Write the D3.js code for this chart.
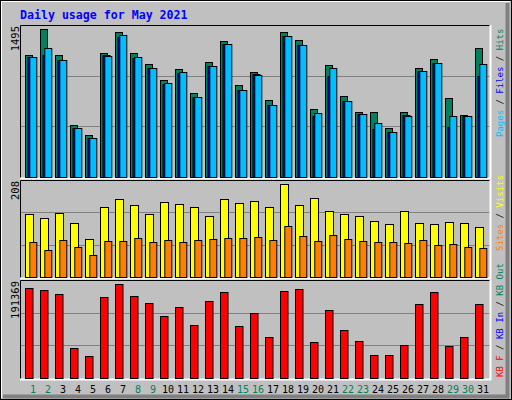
<!DOCTYPE html>
<html>
<head>
<meta charset="utf-8" />
<script src="https://cdn.jsdelivr.net/npm/d3@7"></script>
<style>
  body { margin: 0; background: #fff; }
  text { font-family: "DejaVu Sans Mono", monospace; }
</style>
</head>
<body>
<div id="chart"></div>
<script>
// data
var days = d3.range(1, 32);
var weekend = [1, 2, 8, 9, 15, 16, 22, 23, 29, 30];
var hits  = [1231,1495,1231,521,420,1251,1464,1251,1140,977,1089,846,1160,1373,927,1059,
             775,1464,1383,683,1130,815,653,653,491,653,1099,1190,795,623,1302];
var files = [1211,1231,1180,491,389,1231,1413,1200,1099,937,1048,811,1119,1346,876,1038,
             724,1424,1332,612,1018,765,633,481,450,623,1069,1150,501,612,1018];
var pages = [1211,1302,1180,491,389,1224,1437,1211,1099,947,1062,811,1119,1346,876,1028,
             724,1424,1332,643,1099,765,633,541,450,612,1069,1150,612,612,1140];
var visits = [140,131,143,120,84,156,174,161,140,167,163,156,136,174,165,170,
              156,208,161,176,147,140,136,125,118,147,120,118,122,120,111];
var sites  = [77,59,82,66,48,80,80,86,77,82,77,82,84,86,86,89,
              82,113,91,80,93,84,80,77,77,75,82,71,73,66,64];
var kbytes = [182977,178755,172446,60987,44163,166137,191369,168240,153519,126180,145107,107253,157725,174549,105150,132489,
              84120,176652,180858,73605,138798,96738,75708,46266,46266,67296,151416,174549,65193,84120,151416];
var maxLabels = ["1495", "208", "191369"];

var W = 512, H = 400;
var svg = d3.select("#chart").append("svg").attr("width", W).attr("height", H);

// frame
svg.append("rect").attr("width", W).attr("height", H).attr("fill", "#c0c0c0");
svg.append("rect").attr("x", 0.5).attr("y", 0.5).attr("width", W - 1).attr("height", H - 1)
   .attr("fill", "none").attr("stroke", "#000");
svg.append("path").attr("d", "M1.5,398V1.5H510").attr("fill", "none").attr("stroke", "#fff").attr("stroke-width", 1);
svg.append("path").attr("d", "M3,396.5H507.5V3").attr("fill", "none").attr("stroke", "#808080").attr("stroke-width", 4);

svg.append("text").attr("x", 20).attr("y", 19).attr("fill", "#0000ff")
   .style("font-size", "11.6px").style("font-weight", "bold").text("Daily usage for May 2021");

var x = d3.scaleBand().domain(days).range([20, 485]).paddingInner(0);
// x(d) gives slot start; first bar offset 5px

function panel(top, bottom, barTop, max, label) {
  var y = d3.scaleLinear().domain([0, max]).range([bottom - 0.5, barTop]);
  var g = svg.append("g");
  g.append("rect").attr("x", 20).attr("y", top).attr("width", 471).attr("height", bottom - top + 1).attr("fill", "#c0c0c0");
  [1, 2].forEach(function (k) {
    var gy = Math.round(top + (bottom - top) * k / 3) + 0.5;
    g.append("line").attr("x1", 21).attr("x2", 490).attr("y1", gy).attr("y2", gy).attr("stroke", "#808080");
  });
  g.append("path").attr("d", "M20.5," + (bottom + 1) + "V" + (top + 0.5) + "H491").attr("fill", "none").attr("stroke", "#000");
  g.append("path").attr("d", "M20," + (bottom + 1.5) + "H490.5V" + top).attr("fill", "none").attr("stroke", "#fff").attr("stroke-width", 2);
  g.append("text").attr("transform", "translate(19," + (top + 1) + ") rotate(-90)")
   .attr("text-anchor", "end").style("font-size", "10.5px").text(label);
  return { g: g, y: y, bottom: bottom };
}

function bars(p, data, off, w, color) {
  p.g.selectAll(null).data(data).enter().append("rect")
    .attr("x", function (d, i) { return x(days[i]) + off + 0.5; })
    .attr("y", function (d) { return Math.round(p.y(d)) + 0.5; })
    .attr("width", w)
    .attr("height", function (d) { return Math.max(0, Math.round(p.bottom - p.y(d))); })
    .attr("fill", color).attr("stroke", "#000");
}

var p1 = panel(25, 177, 29.3, 1495, maxLabels[0]);
bars(p1, hits, 5, 7, "#00805c");
bars(p1, files, 7.5, 7, "#0000ff");
bars(p1, pages, 9.3, 7, "#00bfff");

var p2 = panel(180, 277, 184.3, 208, maxLabels[1]);
bars(p2, visits, 5, 8, "#ffff00");
bars(p2, sites, 9.3, 7, "#ff8000");

var p3 = panel(280, 378, 284.3, 191369, maxLabels[2]);
bars(p3, kbytes, 5, 7.5, "#ff0000");

// day labels
svg.selectAll(null).data(days).enter().append("text")
  .attr("x", function (d) { return x(d) + 13; })
  .attr("y", 393).attr("text-anchor", "middle").style("font-size", "10px")
  .attr("fill", function (d) { return weekend.indexOf(d) >= 0 ? "#00805c" : "#000"; })
  .text(function (d) { return d; });

// right side legends
function legend(yStart, parts) {
  var t = svg.append("text").attr("transform", "translate(503," + yStart + ") rotate(-90)")
    .style("font-size", "9px");
  parts.forEach(function (p) { t.append("tspan").attr("fill", p[1]).text(p[0]); });
}
legend(137, [["Pages", "#00bfff"], [" / ", "#000"], ["Files", "#0000ff"], [" / ", "#000"], ["Hits", "#00805c"]]);
legend(377, [["KB F", "#ff0000"], [" / ", "#000"], ["KB In", "#0000ff"], [" / ", "#000"], ["KB Out", "#00805c"]]);
legend(251, [["Sites", "#ff8000"], [" / ", "#000"], ["Visits", "#ffff00"]]);
</script>
</body>
</html>
